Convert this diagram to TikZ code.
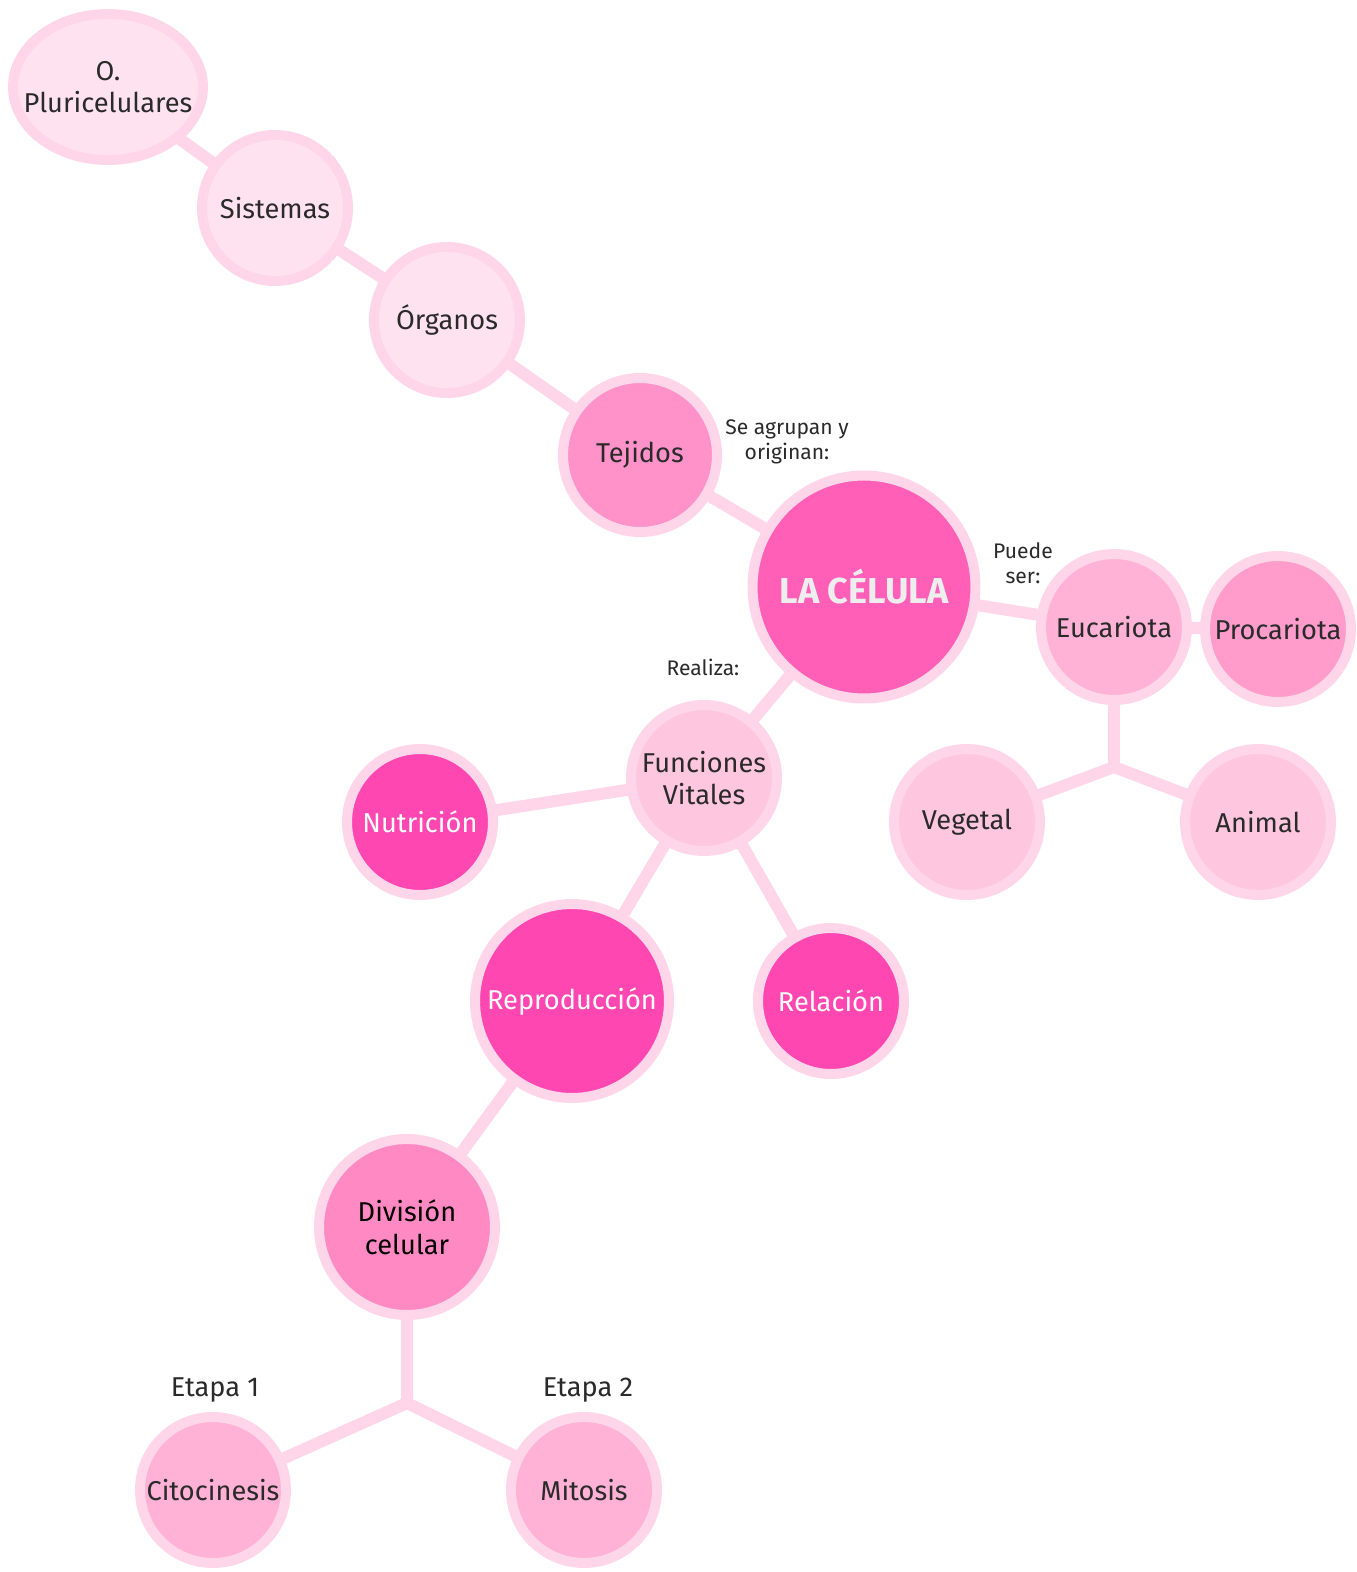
\documentclass[tikz,border=0pt]{standalone}
\usepackage{fontspec}
\setmainfont{Fira Sans}
\usetikzlibrary{shapes.geometric}
\definecolor{ring}{HTML}{FFD6E9}
\definecolor{palefill}{HTML}{FFE2F0}
\definecolor{softfill}{HTML}{FFC6E0}
\definecolor{midfill}{HTML}{FFB1D6}
\definecolor{procfill}{HTML}{FF9CCB}
\definecolor{tejfill}{HTML}{FF92C8}
\definecolor{divfill}{HTML}{FF89C3}
\definecolor{corefill}{HTML}{FF5FB6}
\definecolor{hotfill}{HTML}{FF47B2}
\definecolor{ink}{HTML}{2A2A2A}
\definecolor{coretext}{HTML}{EEEEEE}
\pgfdeclarelayer{back}
\pgfdeclarelayer{links}
\pgfsetlayers{back,links,main}
\tikzset{
  bubble/.style={circle, draw=ring, line width=0.2cm, inner sep=0pt, align=center,
    text=ink, font=\fontsize{15.5}{18.5}\selectfont, minimum size=2.92cm},
  pale/.style={bubble, fill=palefill},
  soft/.style={bubble, fill=softfill},
  mid/.style={bubble, fill=midfill},
  hot/.style={bubble, fill=hotfill, text=white},
  link/.style={draw=ring, line width=0.24cm},
  note/.style={text=ink, align=center, font=\fontsize{12}{14.5}\selectfont},
  stage/.style={text=ink, align=center, font=\fontsize{15.5}{18}\selectfont},
}
\begin{document}
\begin{tikzpicture}[x=0.02cm,y=-0.02cm]
\begin{pgfonlayer}{back}
  \fill[white] (0,0) rectangle (1356,1572);
\end{pgfonlayer}
\useasboundingbox (0,0) rectangle (1356,1572);

% organisation chain
\node[ellipse, draw=ring, line width=0.2cm, fill=palefill, text=ink, align=center,
  font=\fontsize{15.5}{18.5}\selectfont, minimum width=3.8cm, minimum height=2.92cm,
  inner xsep=-0.4cm, inner ysep=0pt]
  (pluri) at (108,87) {O.\\Pluricelulares};
\node[pale] (sist) at (275,208) {Sistemas};
\node[pale] (org) at (447,320) {Órganos};
\node[bubble, fill=tejfill, minimum size=3.08cm] (tej) at (640,455) {Tejidos};

% central cell
\node[bubble, fill=corefill, minimum size=4.46cm, text=coretext,
  font=\fontsize{20.5}{24}\selectfont\bfseries] (cel) at (864,587) {LA CÉLULA};

% cell types
\node[mid] (euc) at (1114,627) {Eucariota};
\node[bubble, fill=procfill] (proc) at (1278,629) {Procariota};
\coordinate (kind) at (1114,767);
\node[soft] (veg) at (967,822) {Vegetal};
\node[soft] (ani) at (1258,822) {Animal};

% vital functions
\node[soft] (func) at (704,778) {Funciones\\Vitales};
\node[hot] (nut) at (420,822) {Nutrición};
\node[hot, minimum size=3.88cm] (rep) at (572,1001) {Reproducción};
\node[hot] (rel) at (831,1001) {Relación};

% cell division
\node[bubble, fill=divfill, text=black, minimum size=3.52cm] (div) at (407,1227) {División\\celular};
\coordinate (stagefork) at (407,1403);
\node[mid] (cito) at (213,1490) {Citocinesis};
\node[mid] (mit) at (584,1490) {Mitosis};

% connectors
\begin{pgfonlayer}{links}
  \draw[link] (pluri.center) -- (sist.center) -- (org.center) -- (tej.center) -- (cel.center);
  \draw[link] (cel.center) -- (euc.center) -- (proc.center);
  \draw[link] (euc.center) -- (kind);
  \draw[link] (veg.center) -- (kind) -- (ani.center);
  \draw[link] (cel.center) -- (func.center);
  \draw[link] (func.center) -- (nut.center);
  \draw[link] (func.center) -- (rep.center);
  \draw[link] (func.center) -- (rel.center);
  \draw[link] (rep.center) -- (div.center) -- (stagefork);
  \draw[link] (cito.center) -- (stagefork) -- (mit.center);
\end{pgfonlayer}

% link labels
\node[note] (lblgroup) at (787,442) {Se agrupan y\\originan:};
\node[note] (lblkind) at (1023,563) {Puede\\ser:};
\node[note] (lblfunc) at (703,667) {Realiza:};
\node[stage] (lblone) at (215,1390) {Etapa 1};
\node[stage] (lbltwo) at (588,1390) {Etapa 2};
\end{tikzpicture}
\end{document}
